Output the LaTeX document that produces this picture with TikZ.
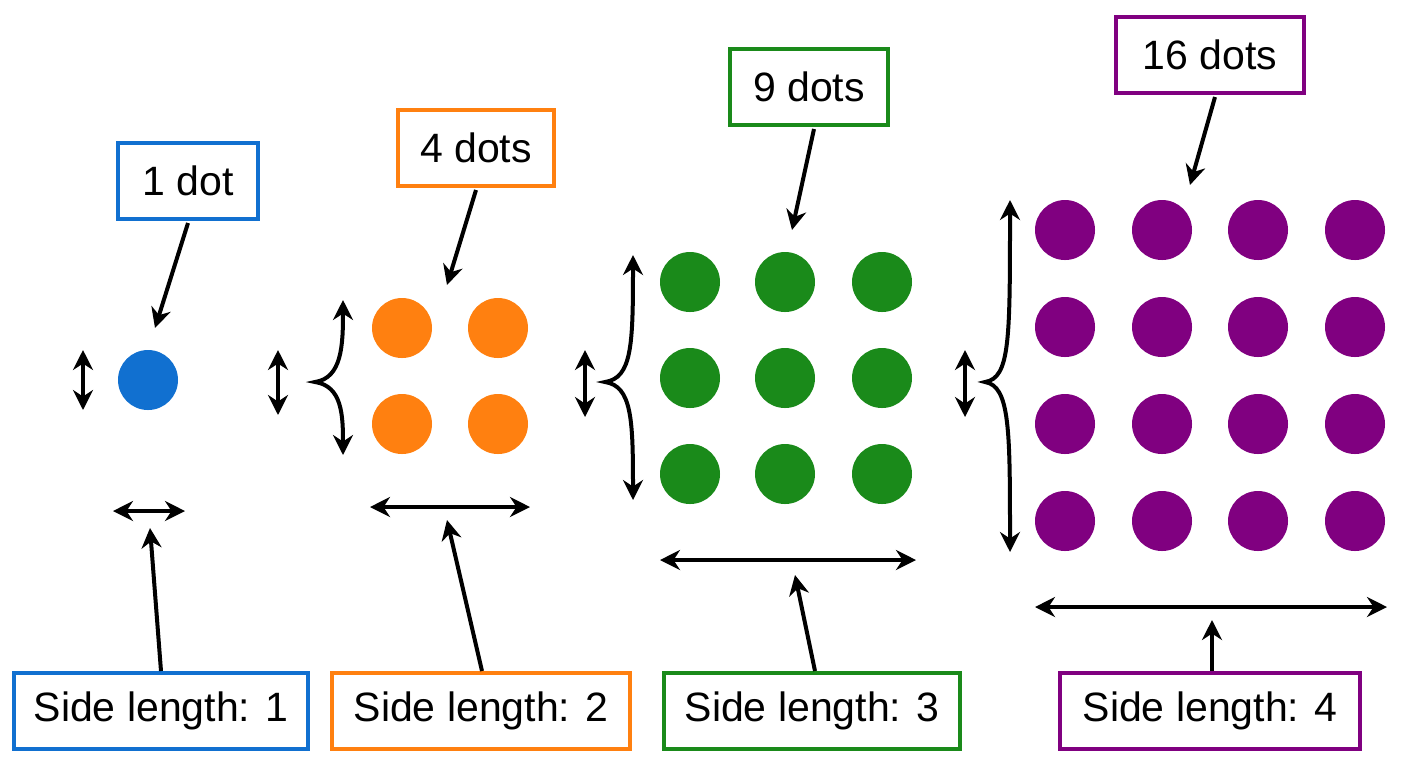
\documentclass[tikz,border=0pt]{standalone}
\usepackage{fontspec}
\setmainfont{Liberation Sans}
\usetikzlibrary{arrows.meta}
\definecolor{cb}{HTML}{1170D0}
\definecolor{co}{HTML}{FF8010}
\definecolor{cg}{HTML}{1A8A1A}
\definecolor{cp}{HTML}{800080}
\begin{document}
\begin{tikzpicture}[x=0.5pt,y=-0.5pt,
  box/.style={draw=#1,line width=2pt,fill=white,minimum height=38pt,inner xsep=5pt,font=\fontsize{20.5}{24}\selectfont},
  dot/.style={circle,fill=#1,minimum size=30pt,inner sep=0pt},
  arr/.style={line width=2pt,-{Stealth[length=10pt,width=10pt]}},
  darr/.style={line width=2pt,{Stealth[length=10pt,width=10pt]}-{Stealth[length=10pt,width=10pt]}}]
\useasboundingbox (0,0) rectangle (1408,768);
% blue
\node[dot=cb] (b1) at (148,380) {};
\node[box=cb,minimum width=70pt] (bt) at (188,181) {1 dot};
\node[box=cb,minimum width=147pt] (bb) at (161,711) {Side length: 1};
\coordinate (bta) at (155,328);
\draw[arr] (bt.south) ++(0,2) -- (bta);
\coordinate (bv1) at (83,350); \coordinate (bv2) at (83,410);
\draw[darr] (bv1) -- (bv2);
\coordinate (bh1) at (113,511); \coordinate (bh2) at (185,511);
\draw[darr] (bh1) -- (bh2);
\coordinate (bba) at (150,528);
\draw[arr] (bb.north) -- (bba);
% orange
\foreach \i/\x in {1/402,2/498} \foreach \j/\y in {1/328,2/424} \node[dot=co] (o\i\j) at (\x,\y) {};
\node[box=co,minimum width=78pt] (ot) at (476,148) {4 dots};
\node[box=co,minimum width=149pt] (ob) at (481,711) {Side length: 2};
\coordinate (ota) at (447,285);
\draw[arr] (ot.south) ++(0,2) -- (ota);
\coordinate (ov1) at (278,350); \coordinate (ov2) at (278,415);
\draw[darr] (ov1) -- (ov2);
\coordinate (obt) at (343,300); \coordinate (obm) at (315,382); \coordinate (obb) at (343,455);
\draw[darr] (obt) .. controls (343,345) and (342,378) .. (obm) .. controls (342,386) and (343,415) .. (obb);
\coordinate (oh1) at (370,507); \coordinate (oh2) at (530,507);
\draw[darr] (oh1) -- (oh2);
\coordinate (oba) at (447,520);
\draw[arr] (ob.north) ++(1,0) -- (oba);
% green
\foreach \i/\x in {1/690,2/785,3/882} \foreach \j/\y in {1/282,2/378,3/474} \node[dot=cg] (g\i\j) at (\x,\y) {};
\node[box=cg,minimum width=79pt] (gt) at (809,87) {9 dots};
\node[box=cg,minimum width=148pt] (gb) at (812,711) {Side length: 3};
\coordinate (gta) at (792,230);
\draw[arr] (gt.south) ++(5,2) -- (gta);
\coordinate (gv1) at (585,350); \coordinate (gv2) at (585,417);
\draw[darr] (gv1) -- (gv2);
\coordinate (gbt) at (633,255); \coordinate (gbm) at (605,382); \coordinate (gbb) at (633,500);
\draw[darr] (gbt) .. controls (633,345) and (632,378) .. (gbm) .. controls (632,386) and (633,420) .. (gbb);
\coordinate (gh1) at (660,560); \coordinate (gh2) at (916,560);
\draw[darr] (gh1) -- (gh2);
\coordinate (gba) at (795,575);
\draw[arr] (gb.north) ++(3,0) -- (gba);
% purple
\foreach \i/\x in {1/1065,2/1162,3/1258,4/1355} \foreach \j/\y in {1/230,2/327,3/424,4/521} \node[dot=cp] (p\i\j) at (\x,\y) {};
\node[box=cp,minimum width=94pt] (pt) at (1210,55) {16 dots};
\node[box=cp,minimum width=150pt] (pb) at (1210,711) {Side length: 4};
\coordinate (pta) at (1190,185);
\draw[arr] (pt.south) ++(5,2) -- (pta);
\coordinate (pv1) at (965,350); \coordinate (pv2) at (965,417);
\draw[darr] (pv1) -- (pv2);
\coordinate (pbt) at (1010,200); \coordinate (pbm) at (985,382); \coordinate (pbb) at (1010,552);
\draw[darr] (pbt) .. controls (1010,340) and (1010,378) .. (pbm) .. controls (1010,386) and (1010,430) .. (pbb);
\coordinate (ph1) at (1035,607); \coordinate (ph2) at (1387,607);
\draw[darr] (ph1) -- (ph2);
\coordinate (pba) at (1212,620);
\draw[arr] (pb.north) ++(2,0) -- (pba);
\end{tikzpicture}
\end{document}
